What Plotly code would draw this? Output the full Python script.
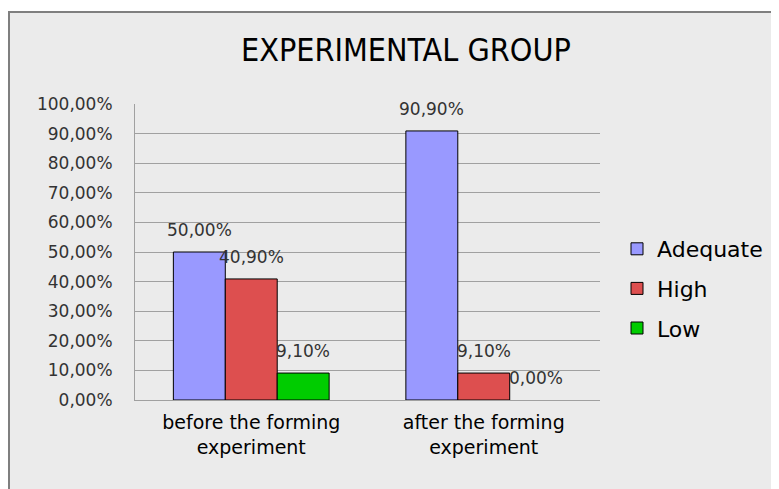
import plotly.graph_objects as go

categories = ["before the forming<br>experiment", "after the forming<br>experiment"]
series_names = ["Adequate", "High", "Low"]
adequate = [50.0, 90.9]
high = [40.9, 9.1]
low = [9.1, 0.0]
colors = ["#9999ff", "#dd4f4f", "#00cc00"]
y_ticks = [0, 10, 20, 30, 40, 50, 60, 70, 80, 90, 100]
y_tick_text = [f"{t:.2f}".replace(".", ",") + "%" for t in y_ticks]

series = [adequate, high, low]

# page body has an 8px margin; the figure fills the rest of the window
OFF = 8
W, H = 779 - OFF, 489 - OFF
PL, PR, PT, PB = 135 - OFF, 600 - OFF, 104 - OFF, 400 - OFF


def px(xr):
    return (xr - OFF - PL) / (PR - PL)


def py(yr):
    return (PB - (yr - OFF)) / (PB - PT)


fig = go.Figure()
for name, vals, col in zip(series_names, series, colors):
    fig.add_trace(go.Bar(
        name=name, x=categories, y=vals, legendgroup=name,
        marker=dict(color=col, line=dict(color="#000000", width=[1 if v > 0 else 0 for v in vals])),
    ))

annotations = []
bar_px = 52
for i, vals in enumerate(series):
    for cat, v in zip(categories, vals):
        annotations.append(dict(
            x=cat, y=v, xref="x", yref="y",
            text=f"{v:.2f}".replace(".", ",") + "%",
            showarrow=False, xshift=(i - 1) * bar_px, yshift=22,
            yanchor="middle",
            font=dict(family="DejaVu Sans", size=17, color="#333333"),
        ))

annotations.append(dict(
    text="EXPERIMENTAL GROUP", xref="paper", yref="paper",
    x=px(406), y=py(50), xanchor="center", yanchor="middle",
    showarrow=False, font=dict(family="Liberation Sans Narrow, DejaVu Sans Condensed, sans-serif", size=32, color="#000000"),
))

shapes = [
    dict(type="rect", xref="paper", yref="paper", x0=-0.5, x1=1.5,
         y0=py(12), y1=1.6, fillcolor="white", line=dict(width=0), layer="below"),
    dict(type="line", xref="paper", yref="paper", x0=px(9), x1=px(9),
         y0=-0.5, y1=py(12), line=dict(color="#7f7f7f", width=2), layer="below"),
    dict(type="line", xref="paper", yref="paper", x0=px(8), x1=1.5,
         y0=py(12), y1=py(12), line=dict(color="#7f7f7f", width=2), layer="below"),
]

fig.update_layout(
    width=W, height=H,
    margin=dict(l=PL, r=W - PR, t=PT, b=H - PB, autoexpand=False),
    paper_bgcolor="#ebebeb", plot_bgcolor="#ebebeb",
    barmode="group", bargap=0.33, bargroupgap=0,
    showlegend=True,
    legend=dict(x=px(617), y=py(228), xanchor="left", yanchor="top",
                traceorder="grouped", tracegroupgap=8,
                font=dict(family="DejaVu Sans", size=22, color="#000000"),
                bgcolor="rgba(0,0,0,0)", itemclick=False),
    annotations=annotations,
    shapes=shapes,
    xaxis=dict(showgrid=False, showline=True, linecolor="#a0a0a0", linewidth=1,
               tickfont=dict(family="DejaVu Sans", size=19, color="#000000"),
               ticks="", ticklabelstandoff=5),
    yaxis=dict(range=[0, 100], tickvals=y_ticks, ticktext=y_tick_text,
               showgrid=True, gridcolor="#a0a0a0", gridwidth=1,
               showline=True, linecolor="#a0a0a0", linewidth=1, zeroline=False,
               tickfont=dict(family="DejaVu Sans", size=17, color="#333333"),
               ticks="", ticklabelstandoff=18),
)

fig.write_html("out.html")
